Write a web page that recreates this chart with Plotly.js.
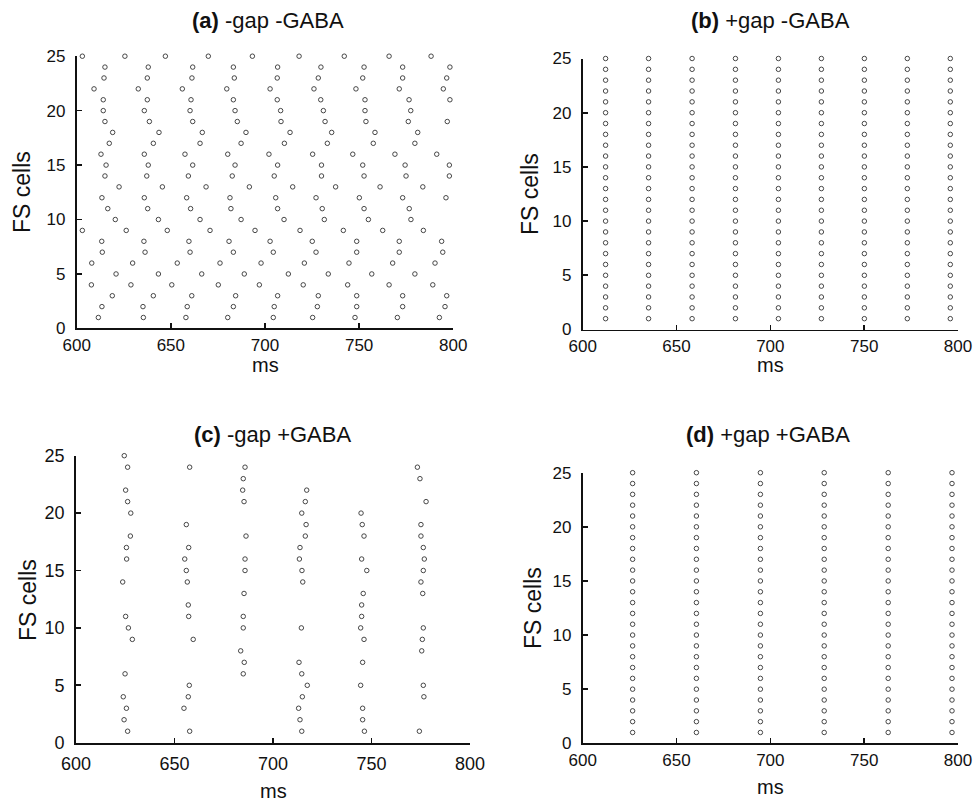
<!DOCTYPE html>
<html>
<head>
<meta charset="utf-8">
<script src="https://cdn.plot.ly/plotly-3.0.1.min.js"></script>
<style>
html,body{margin:0;padding:0;background:#fff;}
#chart{width:976px;height:803px;}
</style>
</head>
<body>
<div id="chart"></div>
<script>
// ---------------- DATA ----------------
const cellIds = [1,2,3,4,5,6,7,8,9,10,11,12,13,14,15,16,17,18,19,20,21,22,23,24,25];
const xTicks = [600, 650, 700, 750, 800];
const yTicks = [0, 5, 10, 15, 20, 25];

// (a) -gap -GABA : spike times (ms) per FS cell (index 0 = cell 1)
const spikesA = [
  [611.5, 635.4, 658.0, 680.2, 704.4, 725.3, 747.8, 770.3, 792.6],
  [613.4, 635.2, 658.7, 683.2, 704.9, 727.8, 748.7, 773.1, 795.6],
  [618.9, 640.7, 661.1, 684.4, 706.7, 728.3, 748.7, 773.1, 796.5],
  [607.8, 628.8, 650.5, 675.2, 697.0, 720.3, 743.9, 765.9, 789.1],
  [620.9, 643.4, 666.4, 689.0, 712.4, 733.6, 756.7, 779.6],
  [608.0, 629.7, 653.4, 676.1, 697.9, 720.9, 744.6, 767.8, 790.3],
  [613.6, 636.3, 660.2, 683.2, 704.4, 727.1, 748.7, 771.3, 794.4],
  [613.3, 635.7, 659.6, 680.9, 702.7, 725.1, 748.7, 771.3, 793.8],
  [603.0, 626.3, 648.1, 670.8, 694.7, 718.6, 741.6, 762.5, 784.1],
  [620.5, 643.4, 665.5, 687.3, 710.1, 731.5, 754.9, 777.5],
  [616.5, 637.7, 660.5, 681.9, 706.7, 730.4, 752.6, 776.6],
  [613.4, 635.9, 658.4, 681.4, 705.7, 727.1, 750.1, 773.1, 796.1],
  [622.5, 645.5, 668.7, 691.7, 714.7, 737.5, 761.1, 783.8],
  [615.0, 637.2, 659.3, 682.6, 704.9, 730.0, 752.6, 774.9, 797.9],
  [615.6, 638.0, 661.6, 684.1, 706.7, 730.0, 751.9, 774.4, 797.9],
  [612.9, 635.9, 657.5, 680.2, 702.1, 725.3, 746.6, 769.0, 791.2],
  [617.3, 640.7, 665.5, 687.3, 710.3, 733.1, 757.5, 779.6],
  [619.1, 643.7, 666.7, 689.9, 713.3, 735.4, 758.4, 781.1],
  [615.0, 638.6, 661.6, 685.3, 708.5, 731.9, 753.6, 776.1, 796.8],
  [614.1, 635.9, 660.2, 684.1, 708.3, 731.0, 753.1, 777.4],
  [614.1, 637.5, 660.7, 683.2, 706.5, 729.6, 753.1, 776.5, 798.2],
  [609.2, 632.7, 656.1, 679.7, 702.7, 726.0, 748.3, 771.3, 794.7],
  [614.5, 637.5, 661.2, 683.7, 706.5, 728.3, 751.9, 773.1, 796.5],
  [615.0, 638.0, 661.6, 683.2, 706.7, 729.7, 752.6, 773.1, 798.2],
  [603.0, 625.6, 647.1, 669.9, 693.3, 718.1, 742.1, 765.9, 788.2]
];

// (b) +gap -GABA : synchronous volleys, all 25 cells fire at each time
const volleysB = [612.2, 635.1, 658.3, 681.4, 704.3, 727.2, 750.1, 773.0, 795.9];

// (c) -gap +GABA : spike times (ms) per FS cell (index 0 = cell 1)
const spikesC = [
  [626.2, 657.7, 714.6, 746.4, 774.3],
  [624.4, 713.7, 745.5],
  [625.6, 654.8, 713.0, 745.5],
  [624.0, 657.0, 714.9, 776.6],
  [657.5, 717.4, 744.5, 776.3],
  [624.9, 684.9, 714.6],
  [685.4, 713.2, 745.5],
  [683.6, 775.5],
  [628.6, 659.5, 746.2, 775.8],
  [626.6, 684.9, 714.4, 744.5, 776.3],
  [625.2, 657.2, 684.9, 745.0],
  [657.0, 745.0],
  [685.3, 745.8, 776.0],
  [623.7, 656.5, 715.1, 775.1],
  [656.0, 685.8, 714.7, 747.6, 776.3],
  [625.7, 655.2, 685.8, 713.4, 745.0, 776.8],
  [625.6, 657.2, 713.7, 776.3],
  [627.6, 686.3, 716.4, 746.2, 775.1],
  [656.0, 716.8, 745.3, 775.1],
  [627.8, 714.6, 744.7],
  [626.2, 685.3, 716.4, 777.7],
  [625.2, 684.6, 717.1],
  [684.9, 774.6],
  [626.2, 657.7, 685.8, 773.3],
  [624.5]
];

// (d) +gap +GABA : synchronous volleys, all 25 cells fire at each time
const volleysD = [626.6, 660.6, 694.7, 728.7, 762.8, 796.8];

const titles = ['(a)', '(b)', '(c)', '(d)'];
const subtitles = ['-gap -GABA', '+gap -GABA', '-gap +GABA', '+gap +GABA'];
const xLabel = 'ms';
const yLabel = 'FS cells';

// ---------------- BUILD ----------------
const W = 976, H = 803;
const px = v => v / W;
const py = v => 1 - v / H;

function fromPerCell(spikes) {
  const x = [], y = [];
  spikes.forEach((times, i) => times.forEach(t => { x.push(t); y.push(cellIds[i]); }));
  return {x, y};
}
function fromVolleys(volleys) {
  const x = [], y = [];
  volleys.forEach(t => cellIds.forEach(c => { x.push(t); y.push(c); }));
  return {x, y};
}

const marker = {symbol: 'circle-open', size: 4.5, color: '#333', line: {width: 0.9, color: '#333'}};
const sets = [fromPerCell(spikesA), fromVolleys(volleysB), fromPerCell(spikesC), fromVolleys(volleysD)];
const traces = sets.map((s, i) => ({
  type: 'scatter', mode: 'markers', x: s.x, y: s.y,
  xaxis: i === 0 ? 'x' : 'x' + (i + 1), yaxis: i === 0 ? 'y' : 'y' + (i + 1),
  marker: marker, cliponaxis: false, hoverinfo: 'x+y', showlegend: false
}));

// panel pixel boxes [left, right, top, bottom]
const boxes = [
  [76.7, 453.3, 56.2, 328.4],
  [582.7, 958.0, 58.5, 329.5],
  [76.0, 470.0, 455.7, 742.7],
  [582.7, 958.0, 472.7, 743.3]
];
const tickSizes = [17, 17, 18, 17];
const xStand = [0, 0, 4, 0];
const fam = 'Liberation Sans, Arial, sans-serif';
const layout = {
  width: W, height: H, margin: {l: 0, r: 0, t: 0, b: 0},
  paper_bgcolor: '#fff', plot_bgcolor: '#fff', showlegend: false,
  annotations: []
};
boxes.forEach((b, i) => {
  const n = i === 0 ? '' : String(i + 1);
  const tf = {family: fam, size: tickSizes[i], color: '#111'};
  layout['xaxis' + n] = {
    domain: [px(b[0]), px(b[1])], range: [600, 800], tickvals: xTicks,
    ticks: 'inside', ticklen: 5, tickwidth: 1.6, tickcolor: '#111',
    showline: true, linecolor: '#111', linewidth: 1.8, mirror: false,
    showgrid: false, zeroline: false, tickfont: tf, ticklabelstandoff: xStand[i],
    anchor: i === 0 ? 'y' : 'y' + n, fixedrange: true
  };
  layout['yaxis' + n] = {
    domain: [py(b[3]), py(b[2])], range: [0, 25], tickvals: yTicks,
    ticks: 'inside', ticklen: 5, tickwidth: 1.6, tickcolor: '#111',
    showline: true, linecolor: '#111', linewidth: 1.8, mirror: false,
    showgrid: false, zeroline: false, tickfont: tf, ticklabelstandoff: 6,
    anchor: i === 0 ? 'x' : 'x' + n, fixedrange: true
  };
});

// titles and axis labels as annotations (pixel-placed)
const titlePos = [[268, 21], [770, 21], [272, 435], [768, 435]];
const msPos = [[265, 365], [770, 365], [273, 791], [770, 787]];
const fsPos = [[22, 192], [530, 194], [28, 600], [533, 608]];
titles.forEach((t, i) => {
  layout.annotations.push({
    xref: 'paper', yref: 'paper', x: px(titlePos[i][0]), y: py(titlePos[i][1]),
    xanchor: 'center', yanchor: 'middle', showarrow: false,
    text: '<b>' + t + '</b> ' + subtitles[i],
    font: {family: fam, size: 22, color: '#111', weight: 'normal'}
  });
  layout.annotations.push({
    xref: 'paper', yref: 'paper', x: px(msPos[i][0]), y: py(msPos[i][1]),
    xanchor: 'center', yanchor: 'middle', showarrow: false,
    text: xLabel, font: {family: fam, size: 20, color: '#111'}
  });
  layout.annotations.push({
    xref: 'paper', yref: 'paper', x: px(fsPos[i][0]), y: py(fsPos[i][1]),
    xanchor: 'center', yanchor: 'middle', showarrow: false, textangle: -90,
    text: yLabel, font: {family: fam, size: 23, color: '#111'}
  });
});

Plotly.newPlot('chart', traces, layout, {displayModeBar: false, staticPlot: true});
</script>
</body>
</html>
